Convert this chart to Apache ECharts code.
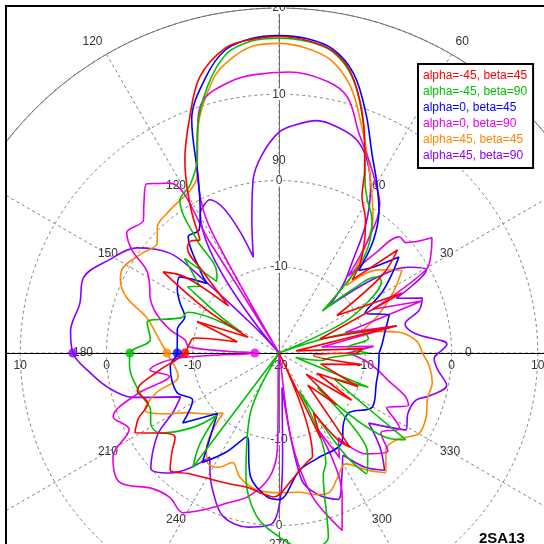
<!DOCTYPE html>
<html>
<head>
<meta charset="utf-8">
<script src="https://cdn.jsdelivr.net/npm/echarts/dist/echarts.min.js"></script>
<style>
html, body { margin: 0; padding: 0; background: #fff; }
#main { width: 544px; height: 544px; }
</style>
</head>
<body>
<div id="main"></div>
<script>
// [angle(deg), gain(dB)]
var red = [[0,-11],[3,-10.2],[7,-18],[13,-6],[19,-15],[26,-4.1],[33,-12],[37,-5],[41,-1.8],[45,-8],[48,-5.9],[53,-3.5],[57,-1.6],[62,0.5],[65,3.5],[68,6.5],[72,10.5],[76,13.8],[80,15.6],[85,16.4],[90,16.7],[95,16.5],[100,15.9],[106,13.3],[111,9.0],[116,4.9],[119,2.0],[122,-1],[125,-4],[128,-3.5],[131,-3.8],[133,-7],[137,-12],[141,-6],[145,-3.6],[149,-10],[153,-16],[159,-9.8],[165,-15],[170,-10],[175,-9.5],[180,-9.1],[184,-8],[188,-6.1],[195,-3],[201,-3.7],[205,-2],[209,-0.9],[214,-3.4],[219,-4.5],[223,-3],[227,-1.5],[233,-2.5],[242,-3.4],[250,-3.8],[257,-4],[263,-3.6],[268,-3.3],[275,-5],[280,-6.2],[285,-7],[288,-7.4],[291,-20],[296,-9],[300,-12],[304,-8],[307,-6.3],[312,-15],[318,-11],[322,-16],[327,-10],[332,-15],[337,-10],[345,-15],[352,-10.3],[356,-16],[360,-11]];
var green = [[0,-9.6],[5,-12],[9,-9.5],[14,-10],[18,-20],[25,-12],[30,-8],[35,-5.5],[38,-5.7],[41,-9],[44,-13],[47,-7],[50,-3.9],[55,-1.2],[60,0.5],[63,2],[66,4.5],[70,8.5],[75,13],[80,15.5],[85,16.3],[90,16.5],[95,16.3],[100,15.2],[105,12],[110,7.6],[113,4.3],[118,2.0],[123,1.1],[126,-3.8],[128,-8.3],[131,-9],[135,-4.5],[140,-8],[144,-6.9],[148,-12],[151,-15],[156,-8.4],[160,-8],[167,-4.3],[174,-5],[180,-2.7],[185,-2.6],[196,-3.2],[204,-3.7],[209,-3],[214,-3.4],[221,-6.9],[225,-9.8],[229,-6],[233,-3.4],[236,-20],[245,-12],[255,-5.2],[262,-1],[270,1.3],[278,3],[285,2.1],[290,-5],[293,-6.1],[298,-15],[303,-6],[306,-2.7],[310,-4],[313,-5.2],[318,-14],[322,-4],[325.6,-2.2],[330,-10],[335,-13],[339,-8.9],[345,-18],[350,-15],[355,-14],[360,-9.6]];
var blue = [[0,-8.4],[5,-8],[11,-7.5],[19,-6.5],[25,-9],[30.6,-6.1],[35,-4],[38.7,-2.2],[42,-5],[46,-6.7],[50,-3],[55,0.2],[60,2.7],[65,5.5],[70,9.5],[75,13.5],[80,15.8],[85,16.6],[90,16.8],[95,16.6],[100,15.7],[105,13],[110.5,8.9],[115,2.1],[119.4,-1.4],[123,-3],[128,-2.9],[133.6,-6.7],[136,-8.4],[142.5,-5.5],[148,-6.1],[153,-7.1],[159,-8.3],[167,-7.9],[180,-8.2],[187,-7.3],[201,-7.3],[208.6,-8.6],[216,-6.2],[224.5,-10],[235,-4.5],[242,-7],[249,-9.6],[257,-5.3],[265,-3.3],[270,-3],[280,-6.2],[290,-7],[305,-7.3],[313,-9],[320,-9.3],[330,-7.5],[343,-8.2],[350,-8.3],[360,-8.4]];
var magenta = [[0,-12],[4,-9],[8,-15],[13,-6],[17,-12],[20,-2.4],[25,-8],[29.5,-0.4],[33,1],[37,2.2],[41,-0.5],[44,-0.6],[46,-3.9],[48,-8],[52,-3],[56,0.9],[60,2.5],[64.4,4.4],[70,7.1],[75,10.7],[80,12],[88,12.6],[95,12.4],[100,12],[106.7,10.6],[110,7.6],[113,4.3],[117,0],[119,-4],[120.5,-20],[122,-5],[122.7,3.4],[125,4],[128,4.9],[132,3.4],[135.6,2],[141.7,2.5],[145,0.8],[148,-1.9],[152,-3],[156.5,-3.7],[162,-5],[168,-7.1],[172,-9],[176,-9.5],[178,-14],[180,-17.2],[183,-8],[187.5,-4.9],[192,-7],[196,-3],[201,0.6],[207,-0.5],[212,2.7],[219,3.8],[227,1.5],[233,1.0],[239,1.6],[245,0],[251,-1.6],[258,-3],[265.5,-5.5],[269,-8.8],[272,-20],[278,-10],[283,-3],[289.6,1.8],[294,-2],[297,-10],[300,-6],[305,-8],[311,-4.5],[318,-3],[322,-5],[328,-3.5],[333,-6],[338,-3.8],[341,-4.5],[346,-7],[350,-8.3],[355,-10],[360,-12]];
var orange = [[0,-3.4],[5,-4],[10,-6],[15,-10],[20,-8],[28,-5],[34,-2.8],[40,-5],[45,-9],[50,-5],[55,-1],[60,1.5],[65,4.5],[70,8],[75,12],[80,14.5],[85,15.5],[90,15.9],[95,15.7],[100,14.3],[103.6,12.6],[110,7.5],[115,2.5],[120,1.3],[123,1.1],[128,0.8],[134,0.3],[138,-1],[143.7,-0.4],[151,0.6],[155,0.3],[160,-1.2],[165,-4.1],[174,-6.1],[180,-7],[193,-8],[198,-5],[203,-3.1],[208,-5],[213,-7.3],[220,-9],[227,-10.5],[233,-6],[237,-4.8],[242,-5],[247,-6.2],[252.5,-4.9],[260,-4],[270,-3.8],[278,-3.7],[285,-3],[289.7,-2.8],[295,-4],[301,-5],[307,-3],[311.7,-1.4],[318,-3.3],[324,-3],[330,-1.3],[336.5,-1.4],[343,-2],[349,-1.9],[355,-2.5],[360,-3.4]];
var purple = [[0,-1.5],[3,-0.5],[8,-4],[13,-5],[17,-3],[21,-2.2],[25,-5],[29.4,-0.4],[33.5,-2],[38,-6],[43,-12],[47,-9],[51,-6.6],[56,-2],[61,1.9],[65.5,4.6],[70,6.3],[75,7],[80.7,7.3],[86,6.5],[90,5.6],[95,3],[98.5,0.3],[101.5,-4.2],[105,-8.5],[108,-5],[111,-2],[114.3,-0.5],[117,-0.8],[119.4,-1.4],[121,-20],[125,-20],[133,-16],[136,-7],[137.5,-2.9],[143.5,0.5],[151,2.4],[159,4.3],[166,3.8],[174,4.3],[180,3.9],[186,2],[192,0],[197,-2.4],[204,-7.5],[209,-6],[214,-3],[222,0],[227.7,-1.2],[232,-3],[236.4,-5.5],[240,-4],[244,-2.4],[251,0],[260,0.5],[268,-0.3],[272,-8],[275,-16],[280,-5.2],[285.7,-2.9],[292,-1.7],[298,-4.4],[302,-6],[307,-3.4],[312,-1.7],[317,-4],[322,-6.8],[328.8,-2.8],[335,-3.5],[341,-3.2],[344,-1.9],[349,-0.2],[354,-1.5],[358,-2],[360,-1.5]];

var names = ['alpha=-45, beta=45', 'alpha=-45, beta=90', 'alpha=0, beta=45', 'alpha=0, beta=90', 'alpha=45, beta=45', 'alpha=45, beta=90'];
var colors = ['#ff0000', '#00c000', '#0000ff', '#e600e6', '#ff8800', '#8c00ff'];
var curves = [red, green, blue, magenta, orange, purple];
var layer = [7, 6, 5, 4, 3, 2];
var markAngle = 180;

var C = [279, 353];
var R = 345;
var font = 'Liberation Sans, Arial, sans-serif';
var dash = { color: '#808080', width: 1, type: [3, 3] };

var chart = echarts.init(document.getElementById('main'), null, { renderer: 'canvas' });

var series = [];
curves.forEach(function (pts, i) {
  series.push({
    type: 'line',
    name: names[i],
    coordinateSystem: 'polar',
    polarIndex: 0,
    symbol: 'none',
    smooth: 0.35,
    z: layer[i],
    lineStyle: { color: colors[i], width: 1.6 },
    itemStyle: { color: colors[i] },
    data: pts.map(function (p) { return [p[1], p[0]]; })
  });
});
// dots where each curve crosses 180 deg
curves.forEach(function (pts, i) {
  var hit = pts.filter(function (p) { return p[0] === markAngle; })[0];
  series.push({
    type: 'scatter',
    coordinateSystem: 'polar',
    polarIndex: 0,
    symbol: 'circle',
    symbolSize: 9,
    z: 10,
    itemStyle: { color: colors[i] },
    data: [[hit[1], hit[0]]]
  });
});

function quietAngle(idx, start) {
  return {
    polarIndex: idx, type: 'value', min: 0, max: 360, startAngle: start, clockwise: false,
    axisLine: { show: false }, axisTick: { show: false }, axisLabel: { show: false }, splitLine: { show: false }
  };
}
function sideRadius(idx, lineColor, label) {
  return {
    polarIndex: idx, type: 'value', min: -20, max: 20, interval: 10,
    axisLine: { lineStyle: { color: lineColor, width: 1 } },
    axisTick: { show: false },
    splitLine: { show: false },
    axisLabel: label
  };
}

var option = {
  animation: false,
  backgroundColor: '#fff',
  title: {
    text: '2SA13', left: 474, top: 526,
    textStyle: { fontFamily: font, fontSize: 15, fontWeight: 'bold', color: '#000' }
  },
  legend: {
    orient: 'vertical', left: 418, top: 64,
    selectedMode: false,
    itemWidth: 0, itemHeight: 0, itemGap: 4,
    padding: [6, 6, 6, 0],
    backgroundColor: '#fff', borderColor: '#000', borderWidth: 2,
    textStyle: { fontFamily: font, fontSize: 12 },
    data: names.map(function (n, i) { return { name: n, icon: 'rect', textStyle: { color: colors[i] } }; })
  },
  polar: [
    { center: C, radius: R },
    { center: C, radius: R },
    { center: C, radius: R },
    { center: C, radius: R },
    { center: C, radius: 173 }
  ],
  angleAxis: [
    {
      polarIndex: 0, type: 'value', min: 0, max: 360, interval: 30, startAngle: 0, clockwise: false,
      axisLine: { lineStyle: { color: '#6e6e6e', width: 1 } },
      axisTick: { show: false },
      splitLine: { lineStyle: dash },
      axisLabel: { margin: 8, color: '#333', fontFamily: font, fontSize: 12,
        formatter: function (v) { return v === 360 ? '' : String(v); } }
    },
    quietAngle(1, 90),
    quietAngle(2, 180),
    quietAngle(3, 270),
    {
      polarIndex: 4, type: 'value', min: 0, max: 360, interval: 30, startAngle: 0, clockwise: false,
      axisLine: { show: false }, axisTick: { show: false }, splitLine: { show: false },
      axisLabel: { margin: 13, color: '#333', fontFamily: font, fontSize: 12,
        formatter: function (v) { return v === 360 ? '' : String(v); } }
    }
  ],
  radiusAxis: [
    {
      polarIndex: 0, type: 'value', min: -20, max: 20, interval: 10,
      axisLine: { lineStyle: { color: '#000', width: 1 } },
      axisTick: { show: false },
      splitLine: { lineStyle: dash },
      axisLabel: { margin: -7, align: 'center', verticalAlign: 'top', color: '#333', fontFamily: font, fontSize: 12 }
    },
    sideRadius(1, '#6e6e6e', { margin: 0, align: 'center', verticalAlign: 'middle', showMinLabel: false,
      backgroundColor: '#fff', padding: [0, 1], color: '#333', fontFamily: font, fontSize: 12 }),
    sideRadius(2, '#000', { margin: 7, align: 'center', verticalAlign: 'top', showMinLabel: false,
      color: '#333', fontFamily: font, fontSize: 12 }),
    sideRadius(3, '#6e6e6e', { margin: 0, align: 'center', verticalAlign: 'middle', showMinLabel: false,
      backgroundColor: '#fff', padding: [0, 1], color: '#333', fontFamily: font, fontSize: 12 }),
    { polarIndex: 4, type: 'value', min: -20, max: 0, show: false }
  ],
  graphic: [
    { type: 'rect', z: 100, shape: { x: 0, y: 0, width: 6, height: 544 }, style: { fill: '#fff' } },
    { type: 'rect', z: 100, shape: { x: 0, y: 0, width: 544, height: 6 }, style: { fill: '#fff' } },
    { type: 'polyline', z: 101, shape: { points: [[6, 544], [6, 6], [544, 6]] }, style: { stroke: '#000', lineWidth: 2, fill: null } }
  ],
  series: series
};

chart.setOption(option);
</script>
</body>
</html>
